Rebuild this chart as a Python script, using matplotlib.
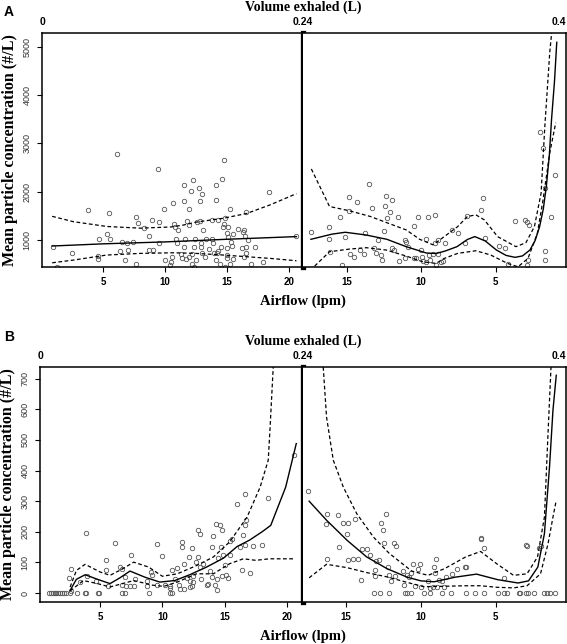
import numpy as np
import matplotlib.pyplot as plt

W, H = 567, 644

# ---------------- panel A (airflow, inhalation side left / exhalation side right)
a_left_x = [1.0, 1.3, 2.5, 3.8, 4.6, 4.6, 4.7, 5.35, 5.45, 5.6, 6.15, 6.4, 6.5, 6.8, 6.95, 7.05, 7.4,
            7.66, 7.8, 7.7, 8.3, 8.7, 8.7, 8.95, 9.0, 9.46, 9.55, 9.5, 9.94, 10.0, 10.4, 10.5, 10.6,
            10.67, 10.7, 10.8, 10.9, 11.0, 11.05, 11.3, 11.35, 11.5, 11.5, 11.5, 11.6, 11.7, 11.8,
            11.9, 11.9, 11.95, 12.07, 12.15, 12.15, 12.23, 12.3, 12.35, 12.4, 12.5, 12.6, 12.77,
            12.8, 12.85, 12.9, 12.9, 12.95, 13.0, 13.05, 13.25, 13.3, 13.55, 13.77, 13.8, 13.85,
            13.95, 14.1, 14.1, 14.15, 14.2, 14.3, 14.3, 14.4, 14.5, 14.62, 14.65, 14.76, 14.76,
            14.85, 14.85, 14.97, 14.97, 15.0, 15.0, 15.1, 15.1, 15.24, 15.24, 15.3, 15.4, 15.5,
            15.5, 15.85, 16.2, 16.27, 16.35, 16.4, 16.45, 16.5, 16.5, 16.5, 16.7, 16.9, 17.25,
            17.9, 18.4, 20.6]
a_left_y = [850, 444, 723, 1619, 670, 600, 1020, 1125, 1569, 1020, 2790, 777, 950, 583, 930, 790, 950,
            1480, 1360, 510, 1240, 1090, 790, 1417, 790, 2470, 1375, 930, 1640, 583, 480, 550, 650,
            1764, 1330, 1270, 1020, 930, 1215, 700, 625, 2140, 1800, 860, 1020, 610, 1390,
            1640, 650, 1310, 2014, 700, 510, 2236, 860, 444, 1020, 583, 1375, 2076,
            1395, 1806, 860, 944, 720, 1944, 1200, 650, 1020, 820, 1020, 1417, 930,
            720, 2140, 583, 1830, 720, 1417, 770, 510, 860, 2270, 1270, 2652, 1335,
            1450, 444, 830, 680, 1145, 625, 1270, 1060, 1645, 510, 965, 880, 1130,
            610, 1235, 840, 1165, 650, 1200, 1075, 720, 845, 1590, 1000, 500, 860,
            550, 2000, 1090]

a_right_x = [17.37, 16.19, 16.2, 16.14, 15.42, 15.33, 15.09, 14.85, 14.85, 14.8, 14.5, 14.33, 14.1,
             13.85, 13.8, 13.5, 13.32, 13.15, 13.05, 12.9, 12.7, 12.65, 12.5, 12.43, 12.38, 12.3,
             12.1, 11.96, 11.96, 11.8, 11.56, 11.5, 11.1, 11.1, 11.0, 10.9, 10.5, 10.45, 10.35,
             10.22, 10.0, 9.95, 9.9, 9.7, 9.66, 9.55, 9.5, 9.42, 9.22, 9.1, 9.1, 9.0, 8.9, 8.9,
             8.65, 8.55, 8.4, 7.95, 7.5, 7.05, 6.93, 5.96, 5.85, 5.74, 4.8, 4.38, 4.2, 3.72, 3.05,
             2.9, 2.8, 2.9, 2.77, 2.0, 1.82, 1.7, 1.7, 1.7, 1.27, 1.04]
a_right_y = [1173, 1277, 1020, 744, 1486, 480, 1069, 1881, 1610, 708, 650, 1792, 790,
             708, 1140, 2152, 1660, 830, 720, 1000, 690, 583, 1190, 1708, 1902, 1465,
             1583, 1819, 840, 800, 1486, 560, 1000, 625, 965, 860, 1298, 625, 625,
             1486, 790, 650, 560, 550, 1025, 1486, 680, 590, 708, 1528, 930, 480, 1000, 708,
             550, 560, 944, 1210, 1140, 944, 1500, 1625, 1860, 1040, 875, 830, 510, 1389, 1417,
             1375, 583, 480, 1310, 3243, 2910, 770, 583, 2077, 1486, 2340]

a_left_fit_x = [0.9, 5.0, 10.0, 15.0, 20.6]
a_left_fit_y = [875, 920, 960, 1015, 1070]
a_left_hi_x = [0.9, 2.6, 5.3, 8.0, 10.5, 11.5, 12.5, 14.7, 16.6, 18.5, 20.6]
a_left_hi_y = [1490, 1380, 1280, 1245, 1270, 1310, 1370, 1450, 1550, 1730, 1960]
a_left_lo_x = [0.9, 2.6, 5.3, 8.0, 10.7, 12.5, 14.7, 16.6, 18.5, 20.6]
a_left_lo_y = [527, 583, 688, 722, 735, 722, 688, 653, 618, 570]

a_right_fit_x = [17.4, 16.0, 15.1, 13.7, 12.3, 11.0, 9.65, 9.0, 8.4, 7.6, 6.9, 6.4, 5.7, 4.95,
                 4.3, 3.7, 3.2, 2.7, 2.35, 2.05, 1.8, 1.6, 1.4, 1.25, 1.05, 0.9]
a_right_fit_y = [1014, 1120, 1160, 1104, 1014, 861, 730, 720, 770, 861, 1010, 1070, 980, 792,
                 680, 640, 670, 792, 990, 1277, 1650, 2111, 2750, 3500, 4300, 5097]
a_right_hi_x = [17.37, 16.15, 14.8, 13.4, 12.33, 11.0, 10.1, 9.2, 8.45, 7.55, 6.9, 6.33, 5.76,
                4.87, 3.64, 2.97, 2.4, 1.95, 1.7, 1.37, 1.24]
a_right_hi_y = [2472, 1694, 1604, 1486, 1361, 1208, 1014, 900, 1070, 1277, 1486, 1521, 1417,
                1070, 861, 944, 1277, 1972, 3360, 4890, 5300]
a_right_lo_x = [17.15, 16.15, 14.8, 13.68, 12.35, 11.0, 9.9, 9.0, 8.45, 7.55, 6.33, 5.33, 4.2,
                3.5, 2.83, 2.2, 1.82, 1.37, 0.97]
a_right_lo_y = [458, 757, 812, 840, 792, 667, 549, 514, 618, 722, 777, 688, 514,
                444, 618, 1140, 1833, 2806, 3430]

# ---------------- panel B
b_left_x = [0.9, 1.05, 1.2, 1.35, 1.5, 1.65, 1.8, 1.95, 2.1, 2.3, 2.6, 3.15, 3.8, 3.85, 4.8, 4.95,
            6.8, 7.0, 8.9, 10.6, 10.75,
            3.88, 2.67, 2.5, 2.67, 3.4, 3.96, 4.7, 5.5, 5.5, 6.2, 5.6, 6.6, 6.75, 6.75, 7.0, 7.1,
            7.4, 7.47, 7.75, 7.8, 8.8, 8.8, 9.1, 9.15, 9.55, 9.55, 10.0, 10.2, 10.6, 10.65, 10.8,
            11.0, 11.15, 11.3, 11.4, 11.56, 11.56, 11.7, 11.75, 12.0, 12.1, 12.2, 12.25, 12.35,
            12.4, 12.45, 12.5, 12.7, 12.9, 13.05, 12.9, 13.05, 13.1, 13.3, 13.6, 13.7, 13.8, 14.0,
            14.0, 14.1, 14.2, 14.3, 14.35, 14.35, 14.5, 14.65, 14.7, 14.8, 14.8, 14.85, 15.0,
            15.1, 15.3, 15.4, 15.45, 15.6, 15.97, 16.2, 16.4, 16.5, 16.6, 16.65, 16.65, 16.7,
            17.0, 17.3, 18.0, 18.45, 20.6]
b_left_y = [0, 0, 0, 0, 0, 0, 0, 0, 0, 0, 0, 0, 0, 0, 0, 0,
            0, 0, 0, 0, 0,
            196, 80, 49, 8, 36, 55, 40, 76, 107, 163, 22, 85, 79, 25, 54, 22,
            22, 123, 22, 46, 40, 22, 70, 60, 159, 25, 122, 28, 23, 16, 76,
            46, 82, 28, 13, 166, 150, 96, 13, 50, 118, 40, 19, 148,
            24, 57, 37, 101, 205, 192, 118, 84, 46, 96, 26, 31, 73, 150,
            53, 188, 26, 227, 10, 46, 114, 222, 150, 205, 55, 125, 92,
            60, 50, 125, 170, 177, 290, 150, 77, 190, 222, 325, 157, 240,
            66, 153, 157, 312, 450]

b_right_x = [17.5, 16.28, 16.3, 16.28, 15.5, 15.45, 15.16, 14.87, 14.9, 14.87, 14.5, 14.38, 14.2,
             13.97, 13.9, 13.55, 13.4, 13.03, 13.03, 12.97, 12.75, 12.63, 12.52, 12.43, 12.3, 12.2,
             12.1, 11.95, 11.8, 11.7, 11.65, 11.2, 11.1, 10.9, 10.8, 10.65, 10.5, 10.4, 10.2, 10.07,
             9.98, 9.5, 9.38, 9.15, 9.1, 9.05, 9.0, 8.9, 8.78, 8.55, 8.45, 8.33, 7.9, 7.55, 7.04,
             7.0, 5.99, 5.95, 5.77, 4.46, 3.0, 2.9, 2.07, 2.0,
             13.1, 12.7, 12.14, 11.07, 10.9, 10.64, 9.8, 9.39, 8.58, 8.0, 6.95, 6.37, 5.77, 4.83,
             4.46, 4.24, 3.46, 3.35, 2.97, 2.81, 2.45, 1.74, 1.58, 1.4, 1.02]
b_right_y = [332, 259, 224, 112, 254, 150, 229, 229, 194, 109, 111, 242, 112,
             44, 143, 143, 125, 76, 57, 105, 107, 229, 205, 162, 259, 85,
             60, 41, 164, 55, 153, 72, 28, 60, 51, 67, 94, 24, 78, 94,
             21, 41, 17, 19, 85, 65, 112, 21, 43, 41, 21, 51, 62, 78, 84,
             86, 175, 181, 146, 48, 157, 153, 146, 155,
             0, 0, 0, 0, 0, 0, 0, 0, 0, 0, 0, 0, 0, 0,
             0, 0, 0, 0, 0, 0, 0, 0, 0, 0, 0]

b_left_fit_x = [2.6, 3.1, 3.8, 4.8, 5.8, 6.6, 7.4, 8.6, 9.8, 11.0, 12.2, 13.5, 14.9, 16.0, 17.0,
                18.0, 18.7, 19.9, 20.75]
b_left_fit_y = [9, 45, 60, 45, 31, 50, 72, 52, 36, 41, 60, 84, 114, 152, 173, 200, 221, 346, 488]
b_left_hi_x = [2.6, 3.1, 3.8, 5.0, 5.8, 6.8, 7.7, 8.9, 10.0, 11.2, 12.75, 14.1, 15.4, 16.8, 17.85,
               18.5, 18.65, 18.9]
b_left_hi_y = [20, 74, 94, 69, 58, 79, 101, 85, 55, 63, 90, 118, 167, 248, 346, 434, 542, 738]
b_left_lo_x = [2.6, 3.66, 4.8, 5.8, 7.7, 9.2, 10.1, 11.2, 12.75, 14.1, 15.4, 16.5, 17.5, 18.6, 20.6]
b_left_lo_y = [7, 41, 31, 20, 41, 26, 22, 36, 63, 63, 96, 112, 107, 112, 112]

b_right_fit_x = [17.44, 16.28, 14.9, 13.6, 12.25, 10.9, 9.98, 9.1, 7.7, 6.27, 4.87, 3.5, 2.8,
                 2.18, 1.74, 1.4, 1.17, 0.95]
b_right_fit_y = [300, 238, 172, 118, 80, 52, 40, 37, 52, 62, 44, 33, 40, 85, 194, 412, 597, 711]
b_right_hi_x = [16.5, 16.28, 15.83, 15.16, 14.26, 13.15, 12.1, 10.6, 9.5, 8.4, 7.0, 6.0, 4.9,
                3.8, 2.9, 2.2, 1.74, 1.5, 1.3]
b_right_hi_y = [738, 575, 434, 346, 259, 183, 130, 72, 58, 80, 118, 136, 95, 58, 63, 118, 248,
                521, 738]
b_right_lo_x = [17.44, 16.28, 14.9, 13.6, 12.25, 10.9, 9.8, 8.7, 7.1, 6.0, 4.9, 3.8, 2.9, 2.0,
                1.5, 1.17, 0.95]
b_right_lo_y = [50, 94, 83, 67, 53, 35, 21, 22, 24, 24, 19, 17, 24, 63, 161, 248, 303]

serif = "Liberation Serif"
sans = "Liberation Sans"
plt.rcParams["font.family"] = sans


def box(l, t, r, b):
    return [l / W, 1 - b / H, (r - l) / W, (b - t) / H]


def draw_side(ax, px, py, fx, fy, hx, hy, lx, ly, xlim, ylim, xticks):
    ax.plot(px, py, "o", ms=3.2, mfc="none", mec="#555555", mew=0.6)
    ax.plot(fx, fy, "-", color="black", lw=1.0)
    ax.plot(hx, hy, "--", color="black", lw=0.9, dashes=(3, 2))
    ax.plot(lx, ly, "--", color="black", lw=0.9, dashes=(3, 2))
    ax.set_xlim(*xlim)
    ax.set_ylim(*ylim)
    ax.set_xticks(xticks)
    ax.set_xticklabels([str(t) for t in xticks], fontsize=7, fontweight="bold")
    ax.tick_params(direction="out", length=3.5, width=0.8, pad=4)
    for s in ax.spines.values():
        s.set_linewidth(1.1)


def panel(top, bottom, left, letter, letter_y, data, ylim, yticks):
    (lpx, lpy, lfx, lfy, lhx, lhy, llx, lly, lxlim,
     rpx, rpy, rfx, rfy, rhx, rhy, rlx, rly, rxlim) = data
    axl = fig.add_axes(box(left, top, 303, bottom))
    axr = fig.add_axes(box(303, top, 566, bottom))
    draw_side(axl, lpx, lpy, lfx, lfy, lhx, lhy, llx, lly, lxlim, ylim, [5, 10, 15, 20])
    draw_side(axr, rpx, rpy, rfx, rfy, rhx, rhy, rlx, rly, rxlim, ylim, [15, 10, 5])
    axl.set_yticks(yticks)
    axl.set_yticklabels([str(t) for t in yticks], fontsize=6.5, rotation=90, va="center",
                        color="#333333")
    axr.set_yticks([])
    axl.spines["right"].set_linewidth(3.8)
    axr.spines["left"].set_visible(False)
    axl.set_ylabel("Mean particle concentration (#/L)", fontsize=11.5, fontweight="bold",
                   family=serif, labelpad=3)
    axl.text(0, 1.025, "0", transform=axl.transAxes, ha="center", va="bottom",
             fontsize=7.5, fontweight="bold")
    axl.text(1, 1.025, "0.24", transform=axl.transAxes, ha="center", va="bottom",
             fontsize=7.5, fontweight="bold")
    axr.text(1, 1.025, "0.4", transform=axr.transAxes, ha="right", va="bottom",
             fontsize=7.5, fontweight="bold")
    fig.text(303 / W, 1 - (top - 26) / H, "Volume exhaled (L)", ha="center", va="center",
             fontsize=10, fontweight="bold", family=serif)
    fig.text(303 / W, 1 - (bottom + 34) / H, "Airflow (lpm)", ha="center", va="center",
             fontsize=10.5, fontweight="bold", family=serif)
    fig.text(4 / W, 1 - letter_y / H, letter, ha="left", va="center",
             fontsize=10, fontweight="bold")


fig = plt.figure(figsize=(W / 100, H / 100), dpi=100)

panel(33, 267, 42, "A", 12,
      (a_left_x, a_left_y, a_left_fit_x, a_left_fit_y, a_left_hi_x, a_left_hi_y,
       a_left_lo_x, a_left_lo_y, (0.08, 21.13),
       a_right_x, a_right_y, a_right_fit_x, a_right_fit_y, a_right_hi_x, a_right_hi_y,
       a_right_lo_x, a_right_lo_y, (17.93, 0.28)),
      (440, 5290), [1000, 2000, 3000, 4000, 5000])

panel(367, 602, 40, "B", 337,
      (b_left_x, b_left_y, b_left_fit_x, b_left_fit_y, b_left_hi_x, b_left_hi_y,
       b_left_lo_x, b_left_lo_y, (0.18, 21.29),
       b_right_x, b_right_y, b_right_fit_x, b_right_fit_y, b_right_hi_x, b_right_hi_y,
       b_right_lo_x, b_right_lo_y, (17.85, 0.3)),
      (-29, 738), [0, 100, 200, 300, 400, 500, 600, 700])

fig.savefig("out.png", dpi=100)
